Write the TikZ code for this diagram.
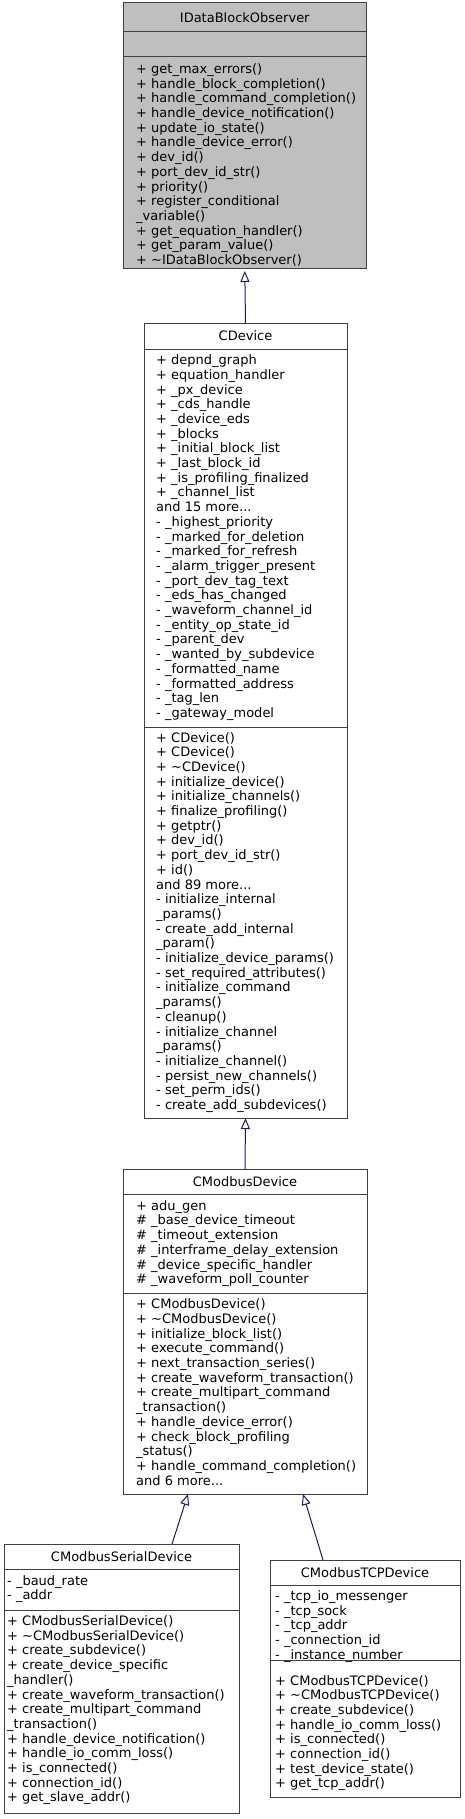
\documentclass[tikz,border=0pt]{standalone}
\usepackage{fontspec}
\setmainfont{DejaVu Sans}
\usetikzlibrary{arrows.meta,positioning}
\definecolor{edgegray}{HTML}{404040}
\definecolor{basegray}{HTML}{BFBFBF}
\definecolor{linkblue}{HTML}{191970}

\begin{document}
\begin{tikzpicture}[
  x=1pt, y=-1pt,
  font=\fontsize{13}{14.7}\selectfont,
  hd/.style={draw=edgegray, line width=1pt, anchor=north west, inner sep=0pt,
             outer sep=0pt, minimum height=25pt},
  sec/.style={draw=edgegray, line width=1pt, inner sep=0pt, outer sep=0pt},
  txt/.style={anchor=north west, align=left, inner sep=0pt},
  arr/.style={linkblue, line width=1pt, -{Triangle[open, length=11pt, width=9pt]}}
]
  \useasboundingbox (0,0) rectangle (465,1819);

  % base class
  \node[hd, fill=basegray, minimum width=242.5pt, minimum height=29pt] (obs) at (123.5,3) {IDataBlockObserver};
  \node[sec, fill=basegray, minimum width=242.5pt, minimum height=25pt, below=0pt of obs] (obsattr) {};
  \node[sec, fill=basegray, minimum width=242.5pt, minimum height=211pt, below=0pt of obsattr] (obsops) {};
  \node[txt] (obsopstext) at ([xshift=12.5pt,yshift=-6pt]obsops.north west) {\strut + get\_max\_errors()\\
    + handle\_block\_completion()\\
    + handle\_command\_completion()\\
    + handle\_device\_notification()\\
    + update\_io\_state()\\
    + handle\_device\_error()\\
    + dev\_id()\\
    + port\_dev\_id\_str()\\
    + priority()\\
    + register\_conditional\\
    \_variable()\\
    + get\_equation\_handler()\\
    + get\_param\_value()\\
    + \textasciitilde{}IDataBlockObserver()};

  % CDevice
  \node[hd, minimum width=203pt, minimum height=26pt] (cdev) at (144,323) {CDevice};
  \node[sec, minimum width=203pt, minimum height=378pt, below=0pt of cdev] (cdevattr) {};
  \node[sec, minimum width=203pt, minimum height=391pt, below=0pt of cdevattr] (cdevops) {};
  \node[txt] (cdevattrtext) at ([xshift=12pt,yshift=-5.2pt]cdevattr.north west) {\strut + depnd\_graph\\
    + equation\_handler\\
    + \_px\_device\\
    + \_cds\_handle\\
    + \_device\_eds\\
    + \_blocks\\
    + \_initial\_block\_list\\
    + \_last\_block\_id\\
    + \_is\_profiling\_finalized\\
    + \_channel\_list\\
    and 15 more...\\
    - \_highest\_priority\\
    - \_marked\_for\_deletion\\
    - \_marked\_for\_refresh\\
    - \_alarm\_trigger\_present\\
    - \_port\_dev\_tag\_text\\
    - \_eds\_has\_changed\\
    - \_waveform\_channel\_id\\
    - \_entity\_op\_state\_id\\
    - \_parent\_dev\\
    - \_wanted\_by\_subdevice\\
    - \_formatted\_name\\
    - \_formatted\_address\\
    - \_tag\_len\\
    - \_gateway\_model};
  \node[txt] (cdevopstext) at ([xshift=12pt,yshift=-4.5pt]cdevops.north west) {\strut + CDevice()\\
    + CDevice()\\
    + \textasciitilde{}CDevice()\\
    + initialize\_device()\\
    + initialize\_channels()\\
    + finalize\_profiling()\\
    + getptr()\\
    + dev\_id()\\
    + port\_dev\_id\_str()\\
    + id()\\
    and 89 more...\\
    - initialize\_internal\\
    \_params()\\
    - create\_add\_internal\\
    \_param()\\
    - initialize\_device\_params()\\
    - set\_required\_attributes()\\
    - initialize\_command\\
    \_params()\\
    - cleanup()\\
    - initialize\_channel\\
    \_params()\\
    - initialize\_channel()\\
    - persist\_new\_channels()\\
    - set\_perm\_ids()\\
    - create\_add\_subdevices()};

  % CModbusDevice
  \node[hd, minimum width=244pt] (mbdev) at (123,1169) {CModbusDevice};
  \node[sec, minimum width=244pt, minimum height=99pt, below=0pt of mbdev] (mbattr) {};
  \node[sec, minimum width=244pt, minimum height=201pt, below=0pt of mbattr] (mbops) {};
  \node[txt] (mbattrtext) at ([xshift=13pt,yshift=-5.7pt]mbattr.north west) {\strut + adu\_gen\\
    \# \_base\_device\_timeout\\
    \# \_timeout\_extension\\
    \# \_interframe\_delay\_extension\\
    \# \_device\_specific\_handler\\
    \# \_waveform\_poll\_counter};
  \node[txt] (mbopstext) at ([xshift=13pt,yshift=-5.2pt]mbops.north west) {\strut + CModbusDevice()\\
    + \textasciitilde{}CModbusDevice()\\
    + initialize\_block\_list()\\
    + execute\_command()\\
    + next\_transaction\_series()\\
    + create\_waveform\_transaction()\\
    + create\_multipart\_command\\
    \_transaction()\\
    + handle\_device\_error()\\
    + check\_block\_profiling\\
    \_status()\\
    + handle\_command\_completion()\\
    and 6 more...};

  % serial device
  \node[hd, minimum width=235pt] (serdev) at (4,1544) {CModbusSerialDevice};
  \node[sec, minimum width=235pt, minimum height=41pt, below=0pt of serdev] (serattr) {};
  \node[sec, minimum width=235pt, minimum height=203pt, below=0pt of serattr] (serops) {};
  \node[txt] (serattrtext) at ([xshift=3pt,yshift=-5.5pt]serattr.north west) {\strut - \_baud\_rate\\
    - \_addr};
  \node[txt] (seropstext) at ([xshift=3pt,yshift=-5pt]serops.north west) {\strut + CModbusSerialDevice()\\
    + \textasciitilde{}CModbusSerialDevice()\\
    + create\_subdevice()\\
    + create\_device\_specific\\
    \_handler()\\
    + create\_waveform\_transaction()\\
    + create\_multipart\_command\\
    \_transaction()\\
    + handle\_device\_notification()\\
    + handle\_io\_comm\_loss()\\
    + is\_connected()\\
    + connection\_id()\\
    + get\_slave\_addr()};

  % tcp device
  \node[hd, minimum width=190pt] (tcpdev) at (270,1560) {CModbusTCPDevice};
  \node[sec, minimum width=190pt, minimum height=75pt, below=0pt of tcpdev] (tcpattr) {};
  \node[sec, minimum width=190pt, minimum height=137pt, below=0pt of tcpattr] (tcpops) {};
  \node[txt] (tcpattrtext) at ([xshift=5pt,yshift=-5pt]tcpattr.north west) {\strut - \_tcp\_io\_messenger\\
    - \_tcp\_sock\\
    - \_tcp\_addr\\
    - \_connection\_id\\
    - \_instance\_number};
  \node[txt] (tcpopstext) at ([xshift=5pt,yshift=-14.5pt]tcpops.north west) {\strut + CModbusTCPDevice()\\
    + \textasciitilde{}CModbusTCPDevice()\\
    + create\_subdevice()\\
    + handle\_io\_comm\_loss()\\
    + is\_connected()\\
    + connection\_id()\\
    + test\_device\_state()\\
    + get\_tcp\_addr()};

  % inheritance
  \draw[arr, shorten >=3pt] (cdev.north) -- (obsops.south);
  \draw[arr] (mbdev.north) -- (cdevops.south);
  \draw[arr] ([xshift=50.5pt]serdev.north) -- ([xshift=-57pt]mbops.south);
  \draw[arr] ([xshift=-42pt]tcpdev.north) -- ([xshift=58pt]mbops.south);
\end{tikzpicture}
\end{document}
